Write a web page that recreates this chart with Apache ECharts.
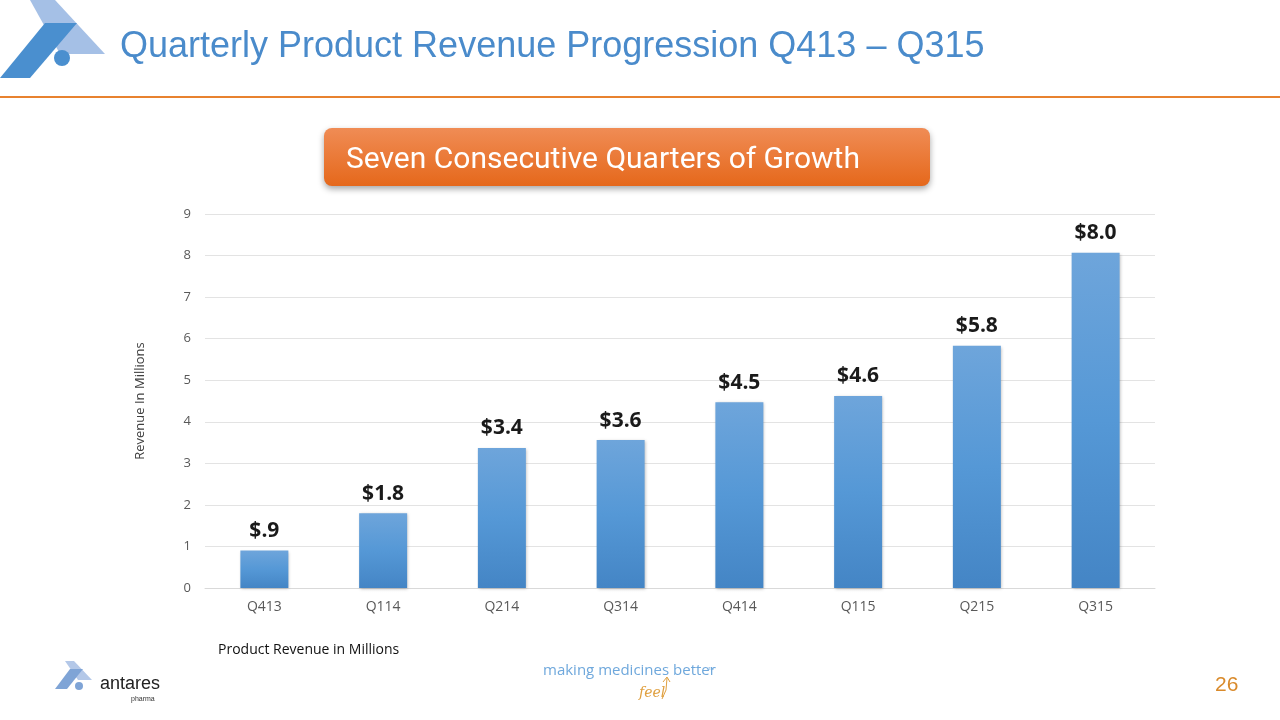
<!DOCTYPE html>
<html><head><meta charset="utf-8">
<script src="https://cdn.jsdelivr.net/npm/echarts@6/dist/echarts.min.js"></script>
<style>html,body{margin:0;padding:0;background:#fff}#c{width:1280px;height:720px}</style>
</head><body><div id="c"></div>
<script>
const categories = ['Q413','Q114','Q214','Q314','Q414','Q115','Q215','Q315'];
const revenue = [0.9, 1.8, 3.37, 3.56, 4.47, 4.62, 5.83, 8.07];
const valueLabels = ['$.9','$1.8','$3.4','$3.6','$4.5','$4.6','$5.8','$8.0'];
const yTicks = [0, 9, 1];

const chart = echarts.init(document.getElementById('c'));
const baseFont = '"Open Sans", "Noto Sans", sans-serif';
chart.setOption({
  animation: false,
  backgroundColor: '#ffffff',
  grid: { left: 205, right: 125, top: 214, bottom: 132 },
  xAxis: {
    type: 'category', data: categories,
    axisLine: { show: true, lineStyle: { color: '#d9d9d9', width: 1 } },
    axisTick: { show: false },
    axisLabel: { color: '#595959', fontSize: 14, fontFamily: baseFont, margin: 12 }
  },
  yAxis: {
    type: 'value', min: yTicks[0], max: yTicks[1], interval: yTicks[2],
    name: 'Revenue In Millions', nameLocation: 'middle', nameGap: 58, nameRotate: 90,
    nameTextStyle: { color: '#404040', fontSize: 13, fontFamily: baseFont },
    axisLine: { show: false }, axisTick: { show: false },
    axisLabel: { color: '#595959', fontSize: 13, fontFamily: baseFont, margin: 14 },
    splitLine: { lineStyle: { color: '#e3e3e3', width: 1 } }
  },
  series: [{
    type: 'bar', data: revenue, barWidth: 48,
    itemStyle: {
      color: new echarts.graphic.LinearGradient(0, 0, 0, 1, [
        { offset: 0, color: '#6ea5db' }, { offset: 0.5, color: '#5598d6' }, { offset: 1, color: '#4485c5' }
      ]),
      shadowColor: 'rgba(0,0,0,0.25)', shadowBlur: 3, shadowOffsetX: 1, shadowOffsetY: 1
    },
    label: {
      show: true, position: 'top', distance: 9,
      formatter: p => valueLabels[p.dataIndex],
      color: '#1a1a1a', fontSize: 21, fontWeight: 'bold', fontFamily: baseFont
    }
  }],
  graphic: [
    // top-left logo
    { type: 'polygon', shape: { points: [[30,0],[55,0],[105,54],[60,54]] }, style: { fill: '#a5c0e6' } },
    { type: 'polygon', shape: { points: [[45,23],[77,23],[30,78],[0,78]] }, style: { fill: '#4a8fcf' } },
    { type: 'circle', shape: { cx: 62, cy: 58, r: 8 }, style: { fill: '#4a8fcf' } },
    // title
    { type: 'text', left: 120, top: 29, style: { text: 'Quarterly Product Revenue Progression Q413 \u2013 Q315', fill: '#4a8bcb', font: '36px "Liberation Sans", Arial, sans-serif' } },
    // orange rule
    { type: 'rect', shape: { x: 0, y: 96, width: 1280, height: 2 }, style: { fill: '#e8822f' } },
    // banner
    { type: 'rect', shape: { x: 324, y: 128, width: 606, height: 58, r: 8 },
      style: { fill: new echarts.graphic.LinearGradient(0,0,0,1,[{offset:0,color:'#f08c55'},{offset:1,color:'#e5681b'}]),
        shadowColor: 'rgba(0,0,0,0.35)', shadowBlur: 6, shadowOffsetY: 3 } },
    { type: 'text', left: 346, top: 145, style: { text: 'Seven Consecutive Quarters of Growth', fill: '#ffffff', font: '30px Roboto, "Liberation Sans", sans-serif' } },
    // footnote
    { type: 'text', left: 218, top: 643, style: { text: 'Product Revenue in Millions', fill: '#111111', font: '14px ' + baseFont } },
    // bottom-left logo
    { type: 'polygon', shape: { points: [[65,661],[74,661],[92,680],[78,680]] }, style: { fill: '#b4c8e8' } },
    { type: 'polygon', shape: { points: [[70,669],[83,669],[67,689],[55,689]] }, style: { fill: '#7fa4d6' } },
    { type: 'circle', shape: { cx: 79, cy: 686, r: 4 }, style: { fill: '#7fa4d6' } },
    { type: 'text', left: 100, top: 675, style: { text: 'antares', fill: '#222222', font: '18px "Liberation Sans", Arial, sans-serif' } },
    { type: 'text', left: 131, top: 696, style: { text: 'pharma', fill: '#333333', font: '7px "Liberation Sans", Arial, sans-serif' } },
    // tagline
    { type: 'text', left: 543, top: 663, style: { text: 'making medicines better', fill: '#6fa8dc', font: '15px "Open Sans", sans-serif' } },
    { type: 'text', left: 708, top: 667, style: { text: 'TM', fill: '#6fa8dc', font: '4px sans-serif' } },
    { type: 'text', left: 639, top: 686, style: { text: 'feel', fill: '#e0a040', font: 'italic 14px "DejaVu Serif", serif' } },
    { type: 'polyline', shape: { points: [[662,699],[666,690],[667,678]] }, style: { stroke: '#e0a040', lineWidth: 1, fill: null } },
    { type: 'polyline', shape: { points: [[663,682],[667,677],[670,682]] }, style: { stroke: '#e0a040', lineWidth: 1, fill: null } },
    // page number
    { type: 'text', left: 1215, top: 675, style: { text: '26', fill: '#d98a2b', font: '21px "Liberation Sans", Arial, sans-serif' } }
  ]
});
</script></body></html>
